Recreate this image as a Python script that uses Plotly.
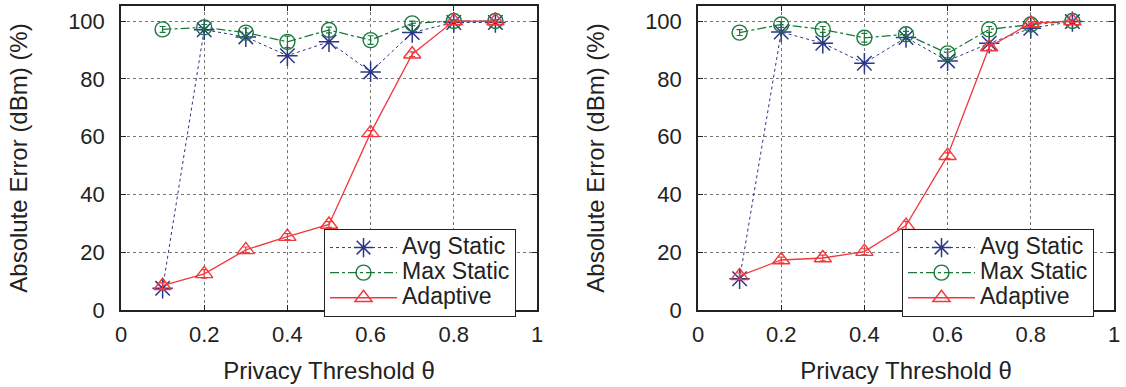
import plotly.graph_objects as go

theta = [0.1, 0.2, 0.3, 0.4, 0.5, 0.6, 0.7, 0.8, 0.9]

# Left panel
avg_left = [7.5, 97.0, 94.5, 88.0, 92.8, 82.4, 96.0, 99.5, 99.5]
max_left = [97.1, 97.8, 96.0, 92.8, 96.9, 93.4, 99.2, 100.0, 100.0]
ada_left = [8.4, 12.5, 20.8, 25.4, 29.6, 61.3, 88.5, 100.0, 100.0]
max_left_err = [1.0, 1.0, 1.5, 2.0, 1.0, 1.5, 0.8, 0.5, 0.5]
ada_left_err = [1.0, 1.5, 1.0, 1.0, 1.0, 0.8, 0.8, 0.5, 0.5]

# Right panel
avg_right = [10.8, 96.2, 92.3, 85.4, 94.3, 86.2, 92.3, 97.5, 99.8]
max_right = [96.0, 98.8, 97.1, 94.2, 95.4, 88.8, 97.1, 98.8, 100.0]
ada_right = [11.8, 17.3, 18.0, 20.2, 29.2, 53.4, 91.0, 99.3, 100.0]
max_right_err = [1.0, 1.0, 1.0, 1.5, 1.0, 1.5, 1.0, 0.5, 0.5]
ada_right_err = [1.0, 1.0, 1.0, 1.0, 1.5, 1.0, 1.0, 0.5, 0.5]

series_names = ["Avg Static", "Max Static", "Adaptive"]
x_ticks = [0, 0.2, 0.4, 0.6, 0.8, 1]
x_ticklabels = ["0", "0.2", "0.4", "0.6", "0.8", "1"]
y_ticks = [0, 20, 40, 60, 80, 100]

C_AVG = "#2c3785"
C_MAX = "#1b7a3a"
C_ADA = "#f2383c"
TXT = "#222222"
FONT = "Liberation Sans, Arial, sans-serif"


def big(name):
    return '<span style="font-size:23px">' + name + '</span>'


fig = go.Figure()

def add_panel(xa, ya, legend, avg, mx, ada, mx_err, ada_err):
    fig.add_trace(go.Scatter(
        x=theta, y=avg, name=big(series_names[0]), xaxis=xa, yaxis=ya, legend=legend,
        mode="lines+markers",
        line=dict(color=C_AVG, width=1, dash="dot"),
        marker=dict(symbol="asterisk-open", size=17, color=C_AVG,
                    line=dict(color=C_AVG, width=1.5)),
    ))
    fig.add_trace(go.Scatter(
        x=theta, y=mx, name=big(series_names[1]), xaxis=xa, yaxis=ya, legend=legend,
        mode="lines+markers",
        line=dict(color=C_MAX, width=1.3, dash="dashdot"),
        marker=dict(symbol="circle-open", size=15, color=C_MAX,
                    line=dict(color=C_MAX, width=1.4)),
        error_y=dict(type="data", array=mx_err, color=C_MAX, thickness=1.2, width=3),
    ))
    fig.add_trace(go.Scatter(
        x=theta, y=ada, name=big(series_names[2]), xaxis=xa, yaxis=ya, legend=legend,
        mode="lines+markers",
        line=dict(color=C_ADA, width=1.3),
        marker=dict(symbol="triangle-up-open", size=15, color=C_ADA,
                    line=dict(color=C_ADA, width=1.4)),
        error_y=dict(type="data", array=ada_err, color=C_ADA, thickness=1.2, width=3),
    ))

add_panel("x", "y", "legend", avg_left, max_left, ada_left, max_left_err, ada_left_err)
add_panel("x2", "y2", "legend2", avg_right, max_right, ada_right, max_right_err, ada_right_err)

W, H = 1126, 387
ytop = 1 - 6 / H
ybot = 1 - 310 / H

axis_common = dict(
    showgrid=True, gridcolor="#777777", griddash="dot", gridwidth=1,
    showline=True, linecolor=TXT, linewidth=1.5, mirror="allticks",
    ticks="inside", ticklen=5, tickcolor=TXT,
    tickfont=dict(family=FONT, size=22, color=TXT),
    zeroline=False, automargin=False,
)

xa = dict(axis_common, range=[0, 1], tickvals=x_ticks, ticktext=x_ticklabels,
          ticklabelstandoff=4,
          title=dict(text="Privacy Threshold θ", font=dict(family=FONT, size=24, color=TXT), standoff=16))
ya = dict(axis_common, range=[0, 105.2], tickvals=y_ticks,
          ticklabelstandoff=10,
          title=dict(text="Absolute Error (dBm) (%)", font=dict(family=FONT, size=24, color=TXT), standoff=34))

legend_common = dict(
    xanchor="left", yanchor="top",
    bgcolor="white", bordercolor=TXT, borderwidth=1,
    font=dict(family=FONT, size=17, color=TXT),
    tracegroupgap=0, itemwidth=67,
)

fig.update_layout(
    width=W, height=H,
    margin=dict(l=0, r=0, t=0, b=0),
    paper_bgcolor="white", plot_bgcolor="white",
    font=dict(family=FONT, color=TXT),
    xaxis=dict(xa, domain=[121 / W, 537 / W], anchor="y"),
    yaxis=dict(ya, domain=[ybot, ytop], anchor="x"),
    xaxis2=dict(xa, domain=[698 / W, 1114 / W], anchor="y2"),
    yaxis2=dict(ya, domain=[ybot, ytop], anchor="x2"),
    legend=dict(legend_common, x=324 / W, y=1 - 229 / H),
    legend2=dict(legend_common, x=902 / W, y=1 - 229 / H),
    showlegend=True,
)

fig.write_html("out.html")
